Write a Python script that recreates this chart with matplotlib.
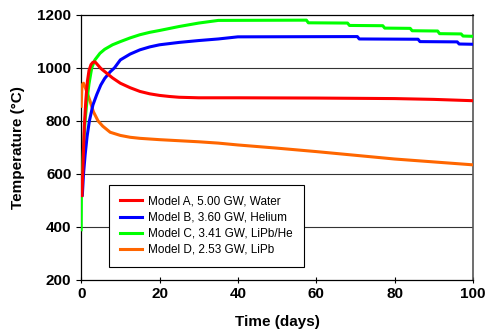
import matplotlib
matplotlib.use("Agg")
import matplotlib.pyplot as plt

plt.rcParams['font.family'] = ['Liberation Sans', 'DejaVu Sans']

# Model A, water
t_a = [0.2, 0.5, 0.8, 1.2, 1.6, 2.0, 2.5, 3.0, 3.5, 4.0, 5.0, 6.5, 8, 10, 12.5, 15,
       17.5, 20, 22.5, 25, 30, 40, 60, 70, 80, 90, 100]
temp_a = [518, 650, 780, 880, 950, 990, 1012, 1021, 1023, 1015, 998, 980, 962, 942, 925, 911,
          902, 896, 892, 889, 887, 887, 886, 885, 884, 881, 876]

# Model B, helium
t_b = [0.3, 0.6, 1.0, 1.5, 2.1, 3, 4, 5, 6, 7.4, 8.5, 10, 12.5, 15, 17.5, 20, 25, 30, 35,
       40, 70.5, 71, 86, 86.5, 96, 96.5, 100]
temp_b = [520, 600, 670, 740, 800, 860, 900, 935, 960, 985, 1000, 1030, 1052, 1068, 1079,
          1087, 1096, 1103, 1109, 1117, 1118, 1109, 1108, 1099, 1098, 1090, 1089]

# Model C, LiPb/He
t_c = [0, 0.05, 0.3, 0.6, 1.0, 1.5, 2.0, 2.7, 3.5, 4.8, 6, 8, 10, 12.5, 15, 17.5, 20, 25,
       30, 35, 57.5, 58, 68, 68.5, 77, 77.5, 84, 84.5, 91, 91.5, 97, 97.5, 100]
temp_c = [389, 515, 600, 700, 800, 880, 940, 1000, 1030, 1055, 1070, 1087, 1099, 1113, 1125,
          1134, 1141, 1156, 1169, 1179, 1180, 1170, 1169, 1160, 1159, 1150, 1149, 1140, 1139,
          1129, 1128, 1120, 1119]

# Model D, LiPb
t_d = [0, 0.2, 0.6, 1.2, 2.3, 3.1, 4.3, 5.5, 7.4, 10, 12.5, 15, 20, 25, 30, 35, 40, 50, 60,
       70, 80, 90, 100]
temp_d = [855, 935, 942, 920, 873, 835, 800, 780, 757, 745, 738, 734, 729, 725, 721, 716, 709,
          697, 684, 670, 656, 645, 634]

fig = plt.figure(figsize=(4.89, 3.30), dpi=100)
ax = fig.add_axes([0.166, 0.152, 0.801, 0.803])

lw = 2.2
ax.plot(t_a, temp_a, color='#FF0000', lw=lw, zorder=6, label='Model A, 5.00 GW, Water')
ax.plot(t_b, temp_b, color='#0000FF', lw=lw, zorder=5, label='Model B, 3.60 GW, Helium')
ax.plot(t_c, temp_c, color='#00FF00', lw=lw, zorder=4, label='Model C, 3.41 GW, LiPb/He')
ax.plot(t_d, temp_d, color='#FF6600', lw=lw, zorder=3, label='Model D, 2.53 GW, LiPb')

ax.set_xlim(0, 100)
ax.set_ylim(200, 1200)
ax.set_xticks([0, 20, 40, 60, 80, 100])
ax.set_yticks([200, 400, 600, 800, 1000, 1200])
for y in [400, 600, 800, 1000]:
    ax.axhline(y, color='#333333', lw=0.8, zorder=1)

ax.tick_params(axis='both', labelsize=11, length=3.5, width=0.8)
ax.tick_params(axis='x', direction='inout', length=5, pad=3)
for lab in ax.get_xticklabels() + ax.get_yticklabels():
    lab.set_fontweight('bold')
ax.set_xlabel('Time (days)', fontsize=11, fontweight='bold', labelpad=10)
ax.set_ylabel('Temperature (\u00b0C)', fontsize=11, fontweight='bold', labelpad=9)

for s in ['left', 'bottom', 'top']:
    ax.spines[s].set_color('black')
    ax.spines[s].set_linewidth(0.9)
ax.spines['right'].set_color('#555555')
ax.spines['right'].set_linewidth(1.2)

leg = ax.legend(loc='lower left', bbox_to_anchor=(0.072, 0.05), borderaxespad=0,
                fontsize=8.5, frameon=True, fancybox=False, edgecolor='black',
                framealpha=1, handlelength=1.9, handletextpad=0.5,
                labelspacing=0.35, borderpad=0.9)
leg.get_frame().set_linewidth(0.8)

fig.savefig('out.png', dpi=100)
